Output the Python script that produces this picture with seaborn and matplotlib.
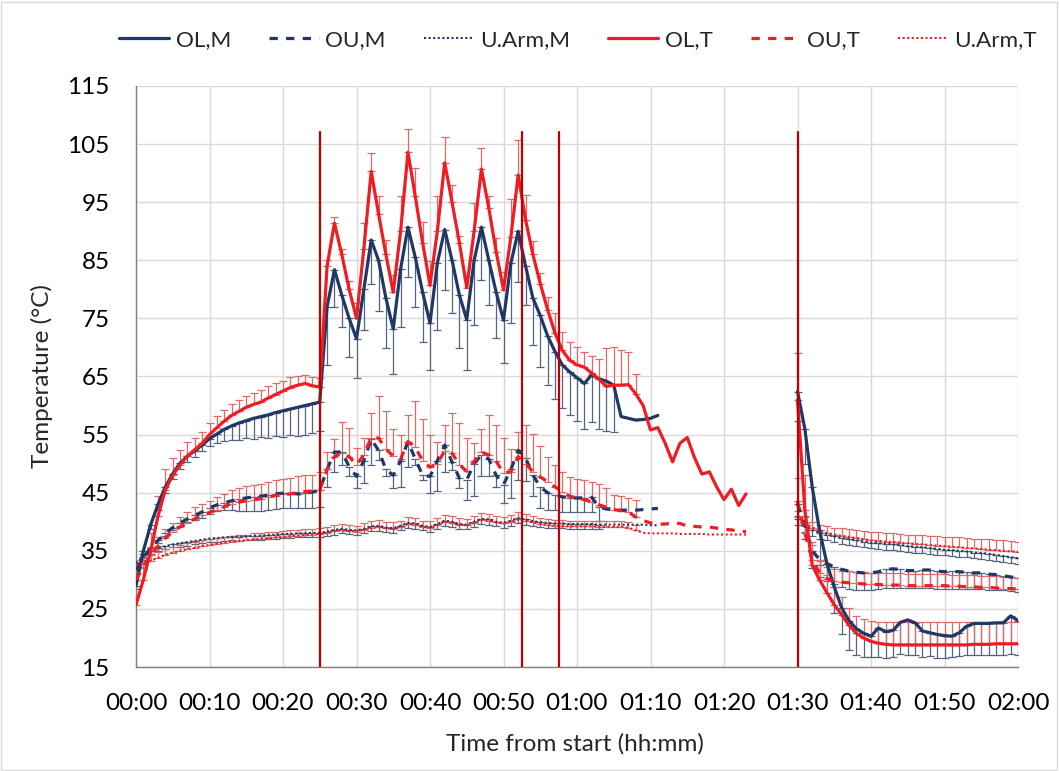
import numpy as np
import pandas as pd
import matplotlib
matplotlib.use("Agg")
import matplotlib.pyplot as plt
from matplotlib.lines import Line2D
from matplotlib.patches import Rectangle
import seaborn as sns

nan = np.nan

# minutes from start, sampled every minute
min_m_a = list(range(0, 72))    # M series, first part
min_t_a = list(range(0, 84))    # T series, first part
min_b = list(range(90, 121))    # recovery part

# OL,M
ol_m_a = [29.0, 35.0, 39.5, 43.0, 46.0, 48.3, 50.1, 51.3, 52.2, 53.2, 54.3, 55.1, 55.9, 56.5, 57.0, 57.4,
          57.8, 58.1, 58.4, 58.8, 59.1, 59.4, 59.7, 60.0, 60.3, 60.6,
          77.0, 83.4, 79.0, 75.0, 71.5, 80.0, 88.5, 85.0, 78.5, 73.2, 83.5, 90.7, 85.5, 79.5, 74.2, 84.5,
          90.3, 85.0, 79.0, 74.8, 85.0, 90.7, 85.0, 79.5, 74.7, 84.5, 90.0,
          84.0, 78.5, 75.5, 72.0, 69.3, 67.0, 65.8, 64.8, 63.8, 65.3, 64.6, 64.2, 63.5, 58.1, 57.8, 57.5,
          57.6, 57.8, 58.3]
ol_m_a_err = [0.5, 0.5, 0.8, 1.0, 1.0, 1.0, 1.0, 1.0, 1.0, 1.0, 1.2, 1.5, 2.0, 2.5, 3.0, 3.0, 3.5, 3.5,
              4.0, 4.0, 4.5, 4.5, 5.0, 5.0, 5.0, 5.0,
              10.0, 6.4, 5.4, 6.6, 6.7, 7.0, 7.6, 8.8, 8.6, 7.7, 9.9, 8.5, 8.5, 8.5, 8.1, 11.5, 10.4, 9.1,
              9.1, 8.7, 11.1, 9.1, 7.7, 7.9, 7.4, 10.3, 8.7,
              6.7, 8.0, 8.8, 8.5, 8.1, 7.5, 7.5, 7.5, 7.8, 8.2, 8.6, 8.5, 8.0, nan, nan, nan, nan, nan, nan]
ol_m_b = [62.4, 56.0, 46.0, 38.5, 32.8, 28.8, 25.2, 23.0, 21.6, 20.8, 20.3, 21.7, 21.1, 21.3, 22.7, 23.1,
          22.6, 21.2, 20.9, 20.6, 20.4, 20.3, 20.9, 22.0, 22.5, 22.5, 22.5, 22.6, 22.6, 23.8, 23.0]
ol_m_b_err = [5.0, 6.0, 7.0, 6.0, 5.0, 4.5, 4.5, 5.0, 4.5, 4.0, 3.5, 5.0, 4.5, 4.5, 5.5, 6.0, 5.5, 4.5,
              4.0, 4.0, 3.8, 3.6, 4.0, 5.0, 5.5, 5.5, 5.5, 5.5, 5.5, 6.5, 6.0]

# OU,M
ou_m_a = [31.7, 33.8, 35.5, 36.8, 38.0, 39.0, 39.8, 40.5, 41.1, 41.7, 42.4, 42.9, 43.3, 43.6, 43.9, 44.1,
          44.3, 44.4, 44.6, 44.8, 44.9, 44.9, 44.8, 44.9, 45.1, 45.5,
          49.0, 52.0, 52.0, 49.5, 47.8, 50.5, 54.2, 52.3, 49.0, 48.0, 50.5, 53.8, 50.8, 48.0, 47.8, 50.5,
          53.2, 50.3, 47.5, 47.2, 50.0, 51.5, 50.8, 48.0, 46.4, 49.0, 52.3,
          51.0, 48.0, 46.0, 45.0, 44.6, 44.3, 44.1, 44.1, 44.1, 44.2, 42.5, 42.2, 42.0, 42.0, 42.0, 42.0,
          42.1, 42.2, 42.3]
ou_m_a_err = [0.5, 0.5, 0.5, 0.5, 0.5, 0.5, 0.5, 0.5, 0.8, 1.0, 1.0, 1.0, 1.2, 1.5, 2.0, 2.2, 2.5, 2.5,
              2.5, 2.6, 2.6, 2.6, 2.5, 2.6, 2.8, 2.9,
              3.0, 3.4, 2.2, 1.7, 2.0, 3.9, 4.4, 1.7, 1.2, 2.2, 4.5, 4.3, 1.0, 0.8, 2.8, 5.2, 4.6, 1.4,
              1.7, 3.4, 5.6, 3.7, 3.0, 2.0, 3.2, 4.9, 5.1,
              4.0, 3.6, 3.7, 3.0, 2.6, 2.6, 2.5, 2.5, 2.5, 2.6, 2.4, nan, nan, nan, nan, nan, nan, nan, nan]
ou_m_b = [43.0, 39.5, 35.0, 33.5, 32.8, 32.2, 31.8, 31.5, 31.3, 31.2, 31.2, 31.4, 31.8, 31.9, 31.8, 31.6,
          31.6, 31.7, 31.7, 31.5, 31.4, 31.5, 31.4, 31.3, 31.2, 31.2, 31.0, 30.9, 30.7, 30.5, 30.3]
ou_m_b_err = [2.0, 2.5, 3.0, 3.0, 3.0, 3.0, 3.0, 3.0, 3.0, 3.0, 3.0, 3.0, 3.2, 3.3, 3.2, 3.0, 3.0, 3.1,
              3.1, 3.0, 3.0, 3.0, 3.0, 2.9, 2.8, 2.8, 2.7, 2.6, 2.5, 2.5, 2.4]

# U.Arm,M
ua_m_a = [32.9, 34.0, 34.9, 35.4, 35.8, 36.1, 36.3, 36.5, 36.7, 36.9, 37.1, 37.2, 37.3, 37.4, 37.4, 37.5,
          37.6, 37.6, 37.7, 37.8, 37.9, 37.9, 38.0, 38.0, 38.1, 38.1,
          38.3, 38.6, 38.8, 38.6, 38.5, 38.8, 39.2, 39.3, 39.0, 38.9, 39.3, 39.8, 39.7, 39.3, 39.1, 39.6,
          40.2, 40.0, 39.6, 39.5, 40.0, 40.5, 40.4, 40.0, 39.8, 40.2, 40.6,
          40.4, 40.1, 39.9, 39.8, 39.7, 39.7, 39.6, 39.6, 39.6, 39.6, 39.5, 39.5, 39.5, 39.5, 39.5, 39.5,
          39.5, 39.4, 39.4]
ua_m_a_err = [0.5, 0.5, 0.5, 0.5, 0.5, 0.5, 0.6, 0.6, 0.6, 0.6, 0.6, 0.6, 0.6, 0.6, 0.7, 0.7, 0.7, 0.7,
              0.7, 0.7, 0.7, 0.7, 0.7, 0.7, 0.7, 0.7,
              0.7, 0.8, 0.8, 0.7, 0.7, 0.8, 0.8, 0.9, 0.8, 0.8, 0.8, 0.9, 0.9, 0.8, 0.8, 0.9, 0.9, 0.9,
              0.8, 0.8, 0.9, 0.9, 0.9, 0.8, 0.8, 0.9, 0.9,
              0.9, 0.8, 0.8, 0.8, 0.8, 0.8, 0.8, 0.8, 0.8, 0.8, 0.8, nan, nan, nan, nan, nan, nan, nan, nan]
ua_m_b = [40.5, 39.3, 38.6, 38.1, 37.8, 37.5, 37.2, 37.0, 36.8, 36.6, 36.4, 36.3, 36.2, 36.1, 36.0, 35.8,
          35.7, 35.6, 35.5, 35.3, 35.2, 35.1, 35.0, 34.9, 34.7, 34.6, 34.5, 34.3, 34.1, 33.9, 33.7]
ua_m_b_err = [1.0, 1.0, 1.0, 1.0, 1.0, 1.0, 1.0, 1.0, 1.0, 1.0, 1.0, 1.0, 1.0, 1.0, 1.0, 1.0, 1.0, 1.0,
              1.0, 1.0, 1.0, 1.0, 1.0, 1.0, 1.0, 1.0, 1.0, 1.0, 1.0, 1.0, 1.0]

# OL,T
ol_t_a = [25.7, 30.0, 35.0, 41.0, 45.5, 48.0, 49.8, 51.3, 52.4, 53.5, 55.0, 56.2, 57.3, 58.3, 59.0, 59.7,
          60.2, 60.6, 61.3, 61.9, 62.5, 63.1, 63.5, 63.8, 63.4, 63.2,
          84.0, 91.4, 86.0, 80.0, 75.0, 87.0, 100.3, 93.0, 86.0, 79.5, 90.0, 103.6, 96.0, 88.0, 80.7, 90.0,
          101.8, 95.0, 88.0, 80.3, 90.0, 100.7, 94.0, 86.5, 79.9, 89.0, 99.7,
          92.0, 86.0, 81.0, 76.5, 72.5, 69.5, 67.8, 67.0, 66.6, 65.6, 64.5, 63.3, 63.5, 63.5, 63.6, 62.0,
          60.0, 55.8, 56.2, 53.5, 50.3, 53.5, 54.5, 51.0, 48.2, 48.6, 46.0, 43.8, 45.6, 42.8, 44.8]
ol_t_a_err = [1.5, 2.0, 3.0, 3.5, 3.5, 3.0, 2.5, 2.5, 2.0, 2.0, 2.0, 2.0, 2.0, 2.0, 2.0, 2.0, 2.0, 2.0,
              2.0, 2.0, 1.8, 1.8, 1.5, 1.5, 1.5, 1.5,
              1.0, 1.0, 1.0, 1.5, 2.6, 4.5, 3.1, 3.0, 2.5, 3.0, 6.0, 4.0, 4.9, 3.6, 4.1, 6.0, 4.4, 3.0,
              1.1, 1.9, 4.8, 3.7, 2.1, 2.3, 3.1, 6.5, 6.0,
              4.2, 2.4, 1.9, 2.2, 3.4, 3.2, 3.2, 3.0, 2.6, 3.0, 3.5, 6.6, 6.6, 6.0, 5.7, 3.4,
              nan, nan, nan, nan, nan, nan, nan, nan, nan, nan, nan, nan, nan, nan, nan]
ol_t_b = [61.0, 42.0, 32.5, 30.0, 27.8, 25.7, 24.0, 22.2, 20.8, 20.0, 19.4, 19.1, 18.9, 18.8, 18.8, 18.8,
          18.8, 18.8, 18.8, 18.8, 18.8, 18.8, 18.8, 18.8, 18.9, 18.9, 18.9, 19.0, 19.0, 19.0, 19.0]
ol_t_b_err = [8.0, 6.0, 4.0, 3.5, 3.0, 3.0, 3.0, 3.0, 3.0, 3.2, 3.5, 3.7, 3.9, 4.0, 4.0, 4.0, 4.0, 4.0,
              4.0, 4.0, 4.0, 4.0, 4.0, 4.0, 3.9, 3.9, 3.9, 3.8, 3.8, 3.8, 3.8]

# OU,T
ou_t_a = [30.0, 32.2, 34.2, 35.8, 37.2, 38.3, 39.1, 39.8, 40.5, 41.1, 41.6, 42.1, 42.6, 43.1, 43.4, 43.6,
          43.8, 44.0, 44.3, 44.5, 44.7, 44.8, 45.0, 45.2, 45.3, 45.5,
          49.0, 51.2, 51.8, 51.2, 49.8, 51.5, 54.5, 54.4, 52.5, 51.3, 50.8, 53.8, 52.8, 50.5, 49.4, 50.0,
          52.2, 51.8, 49.8, 48.7, 50.4, 52.0, 51.5, 50.4, 48.4, 48.6, 51.2,
          50.0, 48.6, 47.7, 46.9, 46.0, 45.2, 44.4, 44.1, 43.8, 43.4, 42.9, 42.5, 42.1, 41.9, 41.7, 40.8,
          40.2, 39.8, 39.6, 39.6, 39.8, 39.7, 39.3, 39.2, 39.1, 39.1, 38.9, 38.7, 38.6, 38.4, 38.3]
ou_t_a_err = [1.0, 1.5, 1.5, 1.5, 1.5, 1.5, 1.8, 1.8, 2.0, 2.0, 2.0, 2.2, 2.2, 2.3, 2.4, 2.5, 2.5, 2.5,
              2.6, 2.6, 2.7, 2.7, 2.8, 2.8, 2.8, 3.0,
              3.0, 3.0, 5.4, 4.9, 2.9, 3.0, 4.2, 7.2, 6.5, 4.6, 4.1, 4.6, 7.9, 7.1, 5.5, 3.8, 4.5, 6.9,
              7.2, 5.7, 3.1, 3.9, 6.9, 6.3, 6.1, 4.0, 4.3,
              6.6, 6.5, 5.3, 4.2, 3.8, 3.3, 3.3, 3.2, 3.3, 3.4, 3.6, 3.3, 2.5, 2.5, 2.4, 2.9,
              nan, nan, nan, nan, nan, nan, nan, nan, nan, nan, nan, nan, nan, nan, nan]
ou_t_b = [43.5, 38.0, 33.5, 31.2, 30.2, 29.8, 29.6, 29.5, 29.4, 29.3, 29.2, 29.2, 29.1, 29.1, 29.1, 29.0,
          29.0, 29.0, 29.0, 29.0, 29.0, 28.9, 28.9, 28.8, 28.8, 28.7, 28.7, 28.6, 28.5, 28.5, 28.4]
ou_t_b_err = [4.0, 3.0, 2.5, 2.0, 2.0, 2.0, 2.0, 2.0, 2.0, 2.0, 2.0, 2.0, 2.0, 2.0, 2.0, 2.0, 2.0, 2.0,
              2.0, 2.0, 2.0, 2.0, 2.0, 2.0, 2.0, 2.0, 2.0, 2.0, 2.0, 2.0, 2.0]

# U.Arm,T
ua_t_a = [32.5, 32.8, 33.3, 33.8, 34.3, 34.7, 35.0, 35.3, 35.5, 35.8, 36.0, 36.2, 36.4, 36.6, 36.7, 36.8,
          37.0, 37.1, 37.2, 37.3, 37.4, 37.5, 37.6, 37.7, 37.8, 37.9,
          38.1, 38.4, 38.5, 38.4, 38.3, 38.6, 39.0, 39.1, 38.9, 38.8, 39.1, 39.6, 39.5, 39.1, 39.0, 39.4,
          40.0, 39.8, 39.5, 39.4, 39.8, 40.3, 40.2, 39.9, 39.7, 40.0, 40.4,
          40.2, 39.9, 39.6, 39.4, 39.3, 39.3, 39.2, 39.2, 39.2, 39.2, 39.1, 39.1, 39.1, 39.1, 39.0, 38.5,
          38.1, 38.0, 38.0, 38.0, 38.0, 37.9, 37.9, 37.9, 37.9, 37.8, 37.8, 37.8, 37.8, 37.8, 37.8]
ua_t_a_err = [1.0, 1.0, 1.0, 1.0, 1.0, 1.0, 1.0, 1.0, 1.0, 1.0, 1.0, 1.0, 1.0, 1.0, 1.0, 1.0, 1.0, 1.0,
              1.0, 1.0, 1.0, 1.0, 1.0, 1.0, 1.0, 1.0,
              1.0, 1.0, 1.1, 1.1, 1.0, 1.1, 1.1, 1.2, 1.1, 1.1, 1.1, 1.2, 1.2, 1.1, 1.1, 1.2, 1.2, 1.2,
              1.1, 1.1, 1.2, 1.2, 1.2, 1.1, 1.1, 1.2, 1.2,
              1.2, 1.1, 1.1, 1.0, 1.0, 1.0, 1.0, 1.0, 1.0, 1.0, 1.0, 1.0, 1.0, 1.0, 1.0, 1.0,
              nan, nan, nan, nan, nan, nan, nan, nan, nan, nan, nan, nan, nan, nan, nan]
ua_t_b = [40.8, 39.8, 39.0, 38.5, 38.1, 37.8, 37.6, 37.4, 37.2, 37.0, 36.8, 36.7, 36.6, 36.5, 36.4, 36.3,
          36.2, 36.1, 36.0, 35.9, 35.8, 35.7, 35.6, 35.5, 35.4, 35.3, 35.2, 35.1, 35.0, 34.9, 34.8]
ua_t_b_err = [1.0, 1.0, 1.0, 1.0, 1.2, 1.2, 1.3, 1.3, 1.4, 1.4, 1.4, 1.5, 1.5, 1.5, 1.5, 1.5, 1.6, 1.6,
              1.6, 1.6, 1.6, 1.7, 1.7, 1.7, 1.7, 1.7, 1.8, 1.8, 1.8, 1.8, 1.8]

phase_marks = [25, 52.5, 57.5, 90]
x_ticks = list(range(0, 121, 10))
x_labels = ["00:00", "00:10", "00:20", "00:30", "00:40", "00:50", "01:00",
            "01:10", "01:20", "01:30", "01:40", "01:50", "02:00"]
y_ticks = list(range(15, 116, 10))

navy = "#1F3864"
red = "#F01C24"
navy_bar = "#56657F"
red_bar = "#E06A6A"

# name, time A, values A, err A, values B, err B, colour, style, width, bar direction
series = [
    ("OL,M", min_m_a, ol_m_a, ol_m_a_err, ol_m_b, ol_m_b_err, navy, "-", 2.3, "down"),
    ("OU,M", min_m_a, ou_m_a, ou_m_a_err, ou_m_b, ou_m_b_err, navy, (0, (2.6, 2.6)), 2.3, "down"),
    ("U.Arm,M", min_m_a, ua_m_a, ua_m_a_err, ua_m_b, ua_m_b_err, navy, (0, (1, 1.2)), 1.5, "down"),
    ("OL,T", min_t_a, ol_t_a, ol_t_a_err, ol_t_b, ol_t_b_err, red, "-", 2.3, "up"),
    ("OU,T", min_t_a, ou_t_a, ou_t_a_err, ou_t_b, ou_t_b_err, red, (0, (2.6, 2.6)), 2.3, "up"),
    ("U.Arm,T", min_t_a, ua_t_a, ua_t_a_err, ua_t_b, ua_t_b_err, red, (0, (1, 1.2)), 1.5, "up"),
]

sns.set_theme(style="whitegrid")
plt.rcParams["font.family"] = ["Lato", "DejaVu Sans"]
fs = 17.5

fig = plt.figure(figsize=(10.59, 7.71), dpi=100)
ax = fig.add_axes([136 / 1059, 1 - 667 / 771, 882 / 1059, 581 / 771])
ax.set_facecolor("white")

handles = []
for name, t_a, v_a, e_a, v_b, e_b, col, ls, lw, side in series:
    df = pd.DataFrame({
        "minute": list(t_a) + min_b,
        "temp": v_a + v_b,
        "err": e_a + e_b,
        "part": ["a"] * len(t_a) + ["b"] * len(min_b),
    })
    bars = df.dropna(subset=["err"])
    zeros = np.zeros(len(bars))
    yerr = [bars["err"].values, zeros] if side == "down" else [zeros, bars["err"].values]
    ax.errorbar(bars["minute"], bars["temp"], yerr=yerr, fmt="none",
                ecolor=navy_bar if col == navy else red_bar, elinewidth=0.9,
                capsize=2.9, capthick=0.9, zorder=2)
    sns.lineplot(data=df, x="minute", y="temp", units="part", estimator=None,
                 color=col, linestyle=ls, linewidth=lw, legend=False, ax=ax, zorder=3)
    handles.append(Line2D([], [], color=col, linestyle=ls, linewidth=lw, label=name))

for m in phase_marks:
    ax.plot([m, m], [15, 107], color="#C00000", lw=1.6, zorder=4)

ax.set_xlim(0, 120)
ax.set_ylim(15, 115)
ax.set_xticks(x_ticks)
ax.set_xticklabels(x_labels)
ax.set_yticks(y_ticks)
ax.grid(True, color="#D9D9D9", linewidth=1.0)
ax.tick_params(axis="both", length=0, labelsize=fs, colors="black")
ax.tick_params(axis="x", pad=19)
ax.tick_params(axis="y", pad=19)
for s in ["top", "right"]:
    ax.spines[s].set_visible(False)
for s in ["left", "bottom"]:
    ax.spines[s].set_color("#7F7F7F")
    ax.spines[s].set_linewidth(1.0)

ax.set_xlabel("Time from start (hh:mm)", fontsize=fs)
ax.set_ylabel("Temperature (°C)", fontsize=fs)
ax.xaxis.set_label_coords(0.498, -0.113)
ax.yaxis.set_label_coords(-0.094, 0.5)

fig.legend(handles=handles, loc="center", bbox_to_anchor=(0.546, 0.948), ncol=6,
           frameon=False, fontsize=16.2, handlelength=2.2, handletextpad=0.3,
           columnspacing=1.7)

fig.patches.append(Rectangle((0.001, 0.001), 0.997, 0.997, transform=fig.transFigure,
                             fill=False, edgecolor="#D9D9D9", linewidth=1.0))

fig.savefig("out.png", dpi=100)
